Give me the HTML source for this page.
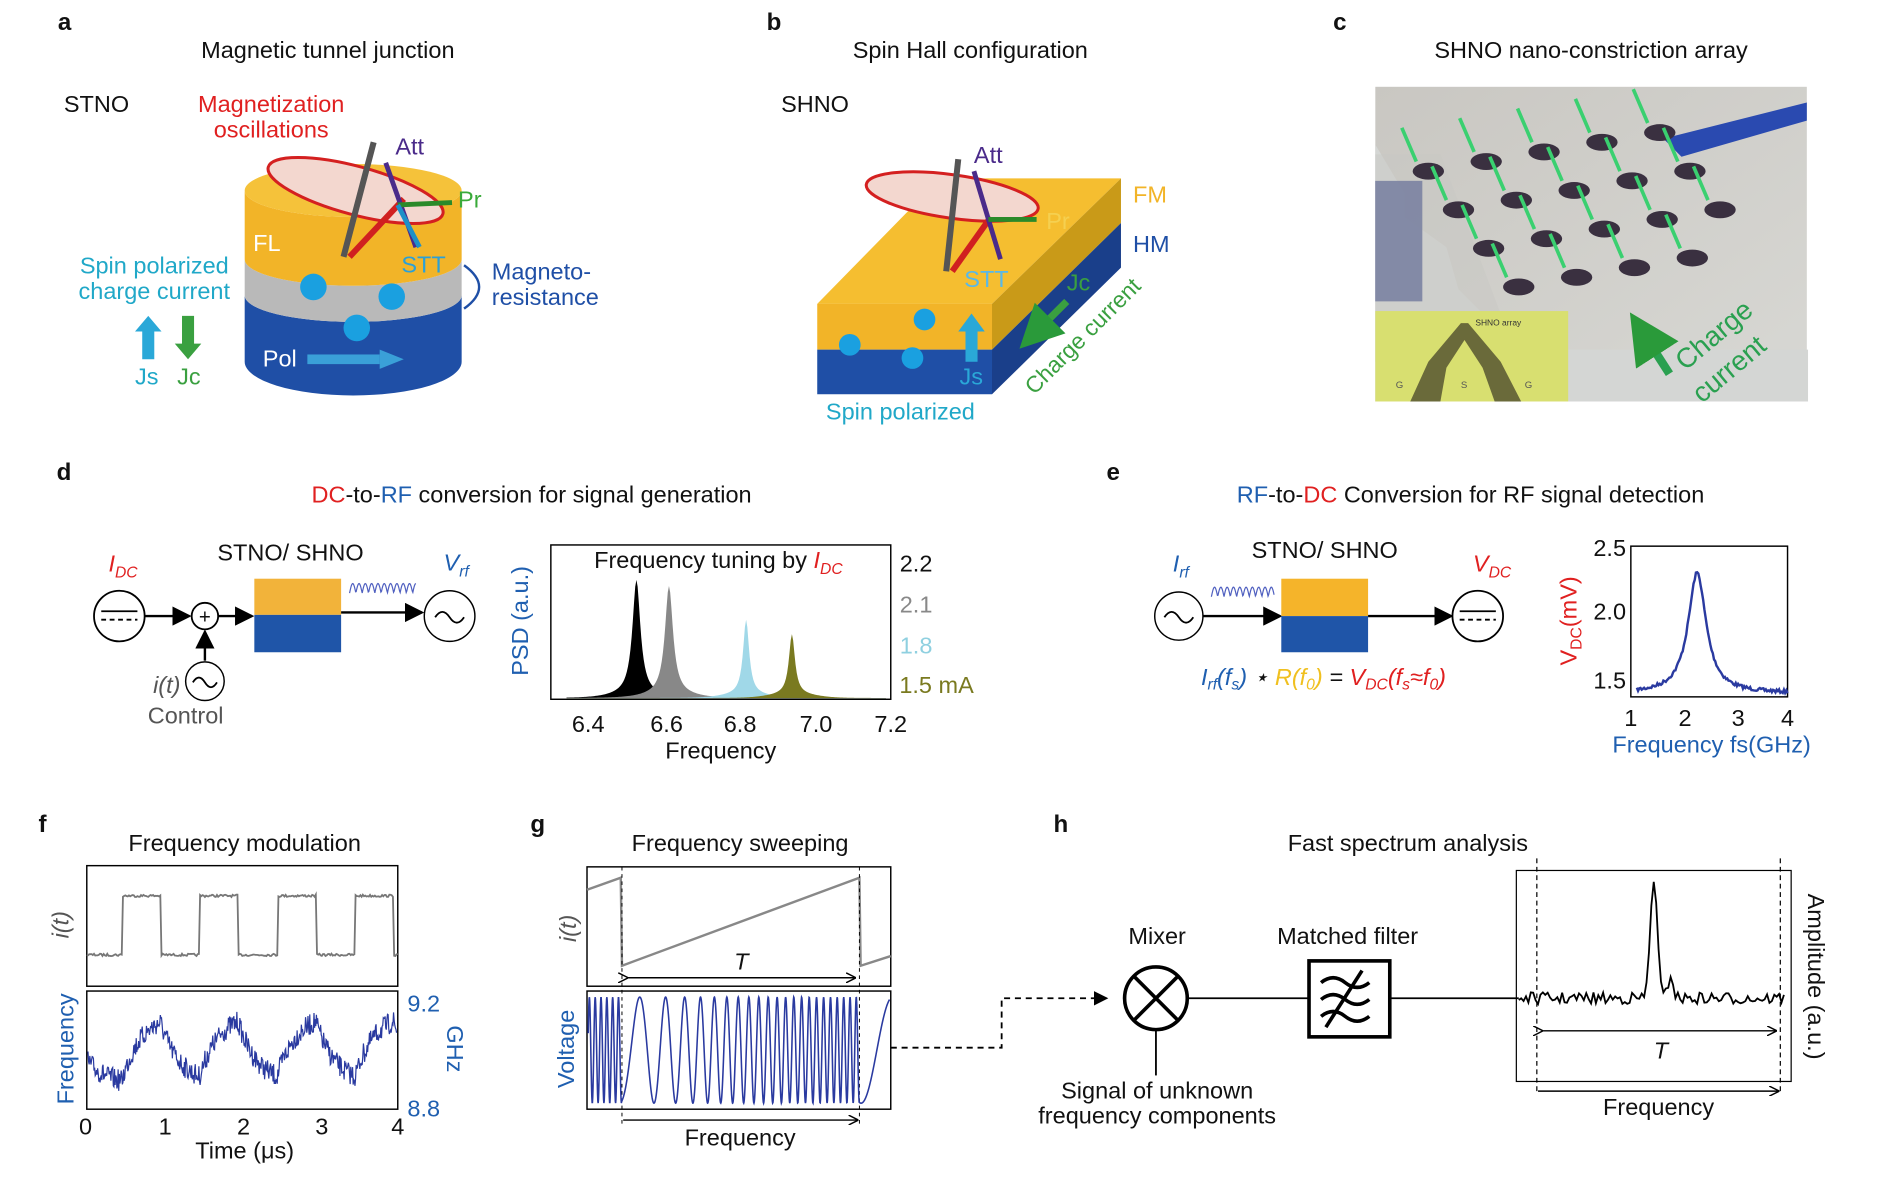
<!DOCTYPE html>
<html><head><meta charset="utf-8"><style>
html,body{margin:0;padding:0;background:#fff}
svg{display:block}
text{font-family:"Liberation Sans",sans-serif;font-size:19.5px;fill:#111}
.b{font-weight:bold;font-size:20px}
</style></head><body>
<svg id="s" width="1890" height="1196" viewBox="0 0 1568 992" preserveAspectRatio="none" xmlns="http://www.w3.org/2000/svg">
<defs>
<marker id="ar" markerWidth="8" markerHeight="8" refX="7" refY="4" orient="auto"><path d="M0,0L8,4L0,8z" fill="#000"/></marker>
<marker id="ars" markerWidth="7" markerHeight="7" refX="6" refY="3.5" orient="auto"><path d="M0,0L7,3.5L0,7" fill="none" stroke="#000"/></marker>
<marker id="arg" markerWidth="6" markerHeight="6" refX="5" refY="3" orient="auto"><path d="M0,0L6,3L0,6z" fill="#2a9a3a"/></marker>
<linearGradient id="ph" x1="0" y1="0" x2="1" y2="1"><stop offset="0" stop-color="#c9c7c2"/><stop offset="1" stop-color="#d8d8d4"/></linearGradient>
</defs>

<!-- panel a -->
<text x="48" y="25" class="b">a</text>
<text x="272" y="48" text-anchor="middle">Magnetic tunnel junction</text>
<text x="53" y="93">STNO</text>
<text x="225" y="93" text-anchor="middle" style="fill:#e02020">Magnetization</text>
<text x="225" y="114" text-anchor="middle" style="fill:#e02020">oscillations</text>
<path d="M203,300 L203,245 A90,22 0 0 0 383,245 L383,300 A90,28 0 0 1 203,300z" fill="#1f4fa6"/>
<path d="M203,245 L203,215 A90,22 0 0 0 383,215 L383,245 A90,22 0 0 1 203,245z" fill="#b9b9b9"/>
<path d="M203,215 L203,158 A90,22 0 0 0 383,158 L383,215 A90,22 0 0 1 203,215z" fill="#f2b428"/>
<ellipse cx="293" cy="158" rx="90" ry="22" fill="#f5c23a"/>
<ellipse cx="295" cy="158" rx="75" ry="20" transform="rotate(15 295 158)" fill="#f3d7cf" stroke="#d42020" stroke-width="2.5"/>
<line x1="285" y1="213" x2="310" y2="118" stroke="#555" stroke-width="5"/>
<line x1="290" y1="213" x2="335" y2="165" stroke="#d02020" stroke-width="5"/>
<line x1="320" y1="135" x2="345" y2="205" stroke="#4a2a8a" stroke-width="4"/>
<line x1="330" y1="170" x2="375" y2="168" stroke="#2a8a2a" stroke-width="4"/>
<line x1="330" y1="170" x2="348" y2="205" stroke="#1e90c8" stroke-width="4"/>
<circle cx="260" cy="238" r="11" fill="#1aa0e0"/><circle cx="325" cy="246" r="11" fill="#1aa0e0"/><circle cx="296" cy="272" r="11" fill="#1aa0e0"/>
<text x="210" y="208" style="fill:#fff">FL</text>
<text x="218" y="304" style="fill:#fff">Pol</text>
<rect x="255" y="294" width="60" height="8" fill="#3aa0d8"/><path d="M315,290L335,298L315,306z" fill="#3aa0d8"/>
<text x="333" y="226" style="fill:#2aa0d8">STT</text>
<text x="380" y="172" style="fill:#3aaa3a">Pr</text>
<text x="328" y="128" style="fill:#4a2a8a">Att</text>
<text x="128" y="227" text-anchor="middle" style="fill:#20a8c8">Spin polarized</text>
<text x="128" y="248" text-anchor="middle" style="fill:#20a8c8">charge current</text>
<path d="M118,298V275H112L123,262L134,275H128V298z" fill="#2aa8d8"/>
<path d="M151,262V285H145L156,298L167,285H161V262z" fill="#3aa040"/>
<text x="112" y="319" style="fill:#20a8c8">Js</text><text x="147" y="319" style="fill:#3aa040">Jc</text>
<path d="M385,220 Q410,238 385,256" fill="none" stroke="#1f4fa6" stroke-width="2"/>
<text x="408" y="232" style="fill:#1f4fa6">Magneto-</text>
<text x="408" y="253" style="fill:#1f4fa6">resistance</text>

<!-- panel b -->
<text x="636" y="25" class="b">b</text>
<text x="805" y="48" text-anchor="middle">Spin Hall configuration</text>
<text x="648" y="93">SHNO</text>
<polygon points="678,252 823,252 930,148 780,148" fill="#f5be30"/>
<polygon points="823,252 930,148 930,185 823,290" fill="#c99a18"/>
<polygon points="823,290 930,185 930,222 823,327" fill="#1a3f8a"/>
<rect x="678" y="252" width="145" height="38" fill="#f2b428"/>
<rect x="678" y="290" width="145" height="37" fill="#1f4fa6"/>
<ellipse cx="790" cy="163" rx="72" ry="18" transform="rotate(8 790 163)" fill="#f3d7cf" stroke="#d42020" stroke-width="2.5"/>
<line x1="785" y1="225" x2="795" y2="132" stroke="#555" stroke-width="5"/>
<line x1="790" y1="225" x2="822" y2="180" stroke="#d02020" stroke-width="5"/>
<line x1="808" y1="142" x2="830" y2="215" stroke="#4a2a8a" stroke-width="4"/>
<line x1="820" y1="182" x2="860" y2="182" stroke="#2a8a2a" stroke-width="4"/>
<text x="808" y="135" style="fill:#4a2a8a">Att</text>
<text x="868" y="190" style="fill:#f5d050">Pr</text>
<text x="800" y="238" style="fill:#5ab8e8">STT</text>
<text x="885" y="241" style="fill:#3aa040">Jc</text>
<text x="940" y="168" style="fill:#f2b428">FM</text>
<text x="940" y="209" style="fill:#1f4fa6">HM</text>
<circle cx="767" cy="265" r="9" fill="#1aa0e0"/><circle cx="705" cy="286" r="9" fill="#1aa0e0"/><circle cx="757" cy="297" r="9" fill="#1aa0e0"/>
<path d="M801,300V275H795L806,260L817,275H811V300z" fill="#2aa8d8"/>
<text x="796" y="319" style="fill:#2aa8d8">Js</text>
<path d="M885,250 L850,285" stroke="#3aa040" stroke-width="6" marker-end="url(#arg)"/>
<text transform="translate(858,328) rotate(-45)" style="fill:#3aa040;font-size:19px">Charge current</text>
<text x="747" y="348" text-anchor="middle" style="fill:#20a8c8">Spin polarized</text>

<!-- panel c -->
<text x="1106" y="25" class="b">c</text>
<text x="1320" y="48" text-anchor="middle">SHNO nano-constriction array</text>
<rect x="1141" y="72" width="358" height="261" fill="url(#ph)"/>
<polygon points="1141,120 1165,160 1165,180 1200,205 1210,240 1260,290 1500,290 1500,333 1141,333" fill="#d4d6d4"/>
<polygon points="1141,150 1180,150 1180,250 1141,250" fill="#25357a" opacity=".85"/>
<polygon points="1380,115 1499,85 1499,100 1395,130" fill="#2a4ab0"/>
<polygon points="1141,128 1195,128 1260,300 1141,300" fill="#c8c8c4" opacity=".5"/>
<g fill="#3a3040" id="holes"></g>
<g stroke="#3ad070" stroke-width="3" id="garr"></g>
<rect x="1141" y="258" width="160" height="75" fill="#d8df70"/>
<polygon points="1170,333 1185,300 1212,268 1218,268 1245,300 1262,333 1240,333 1230,305 1215,282 1200,305 1195,333" fill="#6a6a3a"/>
<text x="1158" y="322" style="font-size:8px;fill:#555">G</text><text x="1212" y="322" style="font-size:8px;fill:#555">S</text><text x="1265" y="322" style="font-size:8px;fill:#555">G</text>
<text x="1224" y="270" style="font-size:7px;fill:#333">SHNO array</text>
<path d="M1385,310 L1356,265" stroke="#2aa050" stroke-width="7" marker-end="url(#arg)"/>
<text transform="translate(1398,308) rotate(-40)" style="fill:#2aa050;font-size:23px">Charge</text>
<text transform="translate(1412,335) rotate(-40)" style="fill:#2aa050;font-size:23px">current</text>

<!-- panel d -->
<text x="47" y="398" class="b">d</text>
<text x="441" y="417" text-anchor="middle"><tspan style="fill:#e02020">DC</tspan>-to-<tspan style="fill:#1f5fb0">RF</tspan> conversion for signal generation</text>
<text x="90" y="474" style="fill:#e02020;font-style:italic">I<tspan dy="5" font-size="13">DC</tspan></text>
<circle cx="99" cy="511" r="21" fill="#fff" stroke="#000" stroke-width="1.5"/>
<line x1="84" y1="507" x2="114" y2="507" stroke="#000" stroke-width="1.5"/><line x1="84" y1="514" x2="114" y2="514" stroke="#000" stroke-width="1.5" stroke-dasharray="4 3"/>
<line x1="120" y1="511" x2="157" y2="511" stroke="#000" stroke-width="2" marker-end="url(#ar)"/>
<circle cx="170" cy="511" r="11" fill="#fff" stroke="#000" stroke-width="1.5"/><text x="170" y="517" text-anchor="middle" style="font-size:17px">+</text>
<line x1="181" y1="511" x2="209" y2="511" stroke="#000" stroke-width="2" marker-end="url(#ar)"/>
<line x1="170" y1="548" x2="170" y2="524" stroke="#000" stroke-width="2" marker-end="url(#ar)"/>
<circle cx="170" cy="565" r="16" fill="#fff" stroke="#000" stroke-width="1.2"/>
<path d="M160,566 q5,-8 10,0 t10,0" fill="none" stroke="#000" stroke-width="1.5"/>
<text x="127" y="575" style="fill:#555;font-style:italic">i(t)</text>
<text x="154" y="600" text-anchor="middle" style="fill:#555">Control</text>
<rect x="211" y="480" width="72" height="30" fill="#f2b33a"/><rect x="211" y="510" width="72" height="31" fill="#1f55a8"/>
<text x="241" y="465" text-anchor="middle">STNO/ SHNO</text>
<path id="wd" fill="none" stroke="#5060c0" stroke-width="1"/>
<line x1="283" y1="508" x2="350" y2="508" stroke="#000" stroke-width="2" marker-end="url(#ar)"/>
<circle cx="373" cy="511" r="21" fill="#fff" stroke="#000" stroke-width="1.2"/>
<path d="M361,512 q6,-9 12,0 t12,0" fill="none" stroke="#000" stroke-width="1.5"/>
<text x="368" y="473" style="fill:#1f5fb0;font-style:italic">V<tspan dy="5" font-size="13">rf</tspan></text>
<rect x="457" y="452" width="282" height="128" fill="none" stroke="#000" stroke-width="1.2"/>
<path id="pk" fill="#000"/>
<text x="596" y="471" text-anchor="middle">Frequency tuning by <tspan style="fill:#e02020;font-style:italic">I<tspan dy="5" font-size="13">DC</tspan></tspan></text>
<text x="760" y="474" text-anchor="middle">2.2</text>
<text x="760" y="508" text-anchor="middle" style="fill:#888">2.1</text>
<text x="760" y="542" text-anchor="middle" style="fill:#8fd0e0">1.8</text>
<text x="777" y="575" text-anchor="middle" style="fill:#7a7a20">1.5 mA</text>
<g text-anchor="middle"><text x="488" y="607">6.4</text><text x="553" y="607">6.6</text><text x="614" y="607">6.8</text><text x="677" y="607">7.0</text><text x="739" y="607">7.2</text></g>
<text x="598" y="629" text-anchor="middle">Frequency</text>
<text transform="translate(438,515) rotate(-90)" text-anchor="middle" style="fill:#1f5fb0">PSD (a.u.)</text>

<!-- panel e -->
<text x="918" y="398" class="b">e</text>
<text x="1220" y="417" text-anchor="middle"><tspan style="fill:#1f5fb0">RF</tspan>-to-<tspan style="fill:#e02020">DC</tspan> Conversion for RF signal detection</text>
<text x="973" y="474" style="fill:#1f5fb0;font-style:italic">I<tspan dy="5" font-size="13">rf</tspan></text>
<circle cx="978" cy="511" r="20" fill="#fff" stroke="#000" stroke-width="1.2"/>
<path d="M966,512 q6,-9 12,0 t12,0" fill="none" stroke="#000" stroke-width="1.5"/>
<path id="we" fill="none" stroke="#5060c0" stroke-width="1"/>
<line x1="998" y1="511" x2="1062" y2="511" stroke="#000" stroke-width="2" marker-end="url(#ar)"/>
<rect x="1063" y="480" width="72" height="31" fill="#f5b42a"/><rect x="1063" y="511" width="72" height="30" fill="#1f55a8"/>
<text x="1099" y="463" text-anchor="middle">STNO/ SHNO</text>
<line x1="1135" y1="511" x2="1204" y2="511" stroke="#000" stroke-width="2" marker-end="url(#ar)"/>
<circle cx="1226" cy="511" r="21" fill="#fff" stroke="#000" stroke-width="1.5"/>
<line x1="1211" y1="507" x2="1241" y2="507" stroke="#000" stroke-width="1.5"/><line x1="1211" y1="514" x2="1241" y2="514" stroke="#000" stroke-width="1.5" stroke-dasharray="4 3"/>
<text x="1222" y="474" style="fill:#e02020;font-style:italic">V<tspan dy="5" font-size="13">DC</tspan></text>
<text x="1098" y="568" text-anchor="middle" style="font-style:italic"><tspan style="fill:#1f5fb0">I<tspan font-size="13" dy="4">rf</tspan><tspan dy="-4">(f</tspan><tspan font-size="13" dy="4">s</tspan><tspan dy="-4">)</tspan></tspan> ⋆ <tspan style="fill:#f0c020">R(f<tspan font-size="13" dy="4">0</tspan><tspan dy="-4">)</tspan></tspan> = <tspan style="fill:#e02020">V<tspan font-size="13" dy="4">DC</tspan><tspan dy="-4">(f</tspan><tspan font-size="13" dy="4">s</tspan><tspan dy="-4">≈f</tspan><tspan font-size="13" dy="4">0</tspan><tspan dy="-4">)</tspan></tspan></text>
<rect x="1353" y="453" width="130" height="125" fill="none" stroke="#000" stroke-width="1.2"/>
<path id="ep" fill="none" stroke="#2a3aa0" stroke-width="2"/>
<g text-anchor="end"><text x="1349" y="461">2.5</text><text x="1349" y="514">2.0</text><text x="1349" y="571">1.5</text></g>
<g text-anchor="middle"><text x="1353" y="602">1</text><text x="1398" y="602">2</text><text x="1442" y="602">3</text><text x="1483" y="602">4</text></g>
<text x="1420" y="624" text-anchor="middle" style="fill:#1f5fb0">Frequency fs(GHz)</text>
<text transform="translate(1308,515) rotate(-90)" text-anchor="middle" style="fill:#e02020">V<tspan font-size="13" dy="4">DC</tspan><tspan dy="-4">(mV)</tspan></text>

<!-- panel f -->
<text x="32" y="690" class="b">f</text>
<text x="203" y="706" text-anchor="middle">Frequency modulation</text>
<rect x="72" y="718" width="258" height="100" fill="none" stroke="#000" stroke-width="1.2"/>
<rect x="72" y="822" width="258" height="98" fill="none" stroke="#000" stroke-width="1.2"/>
<path id="sq" fill="none" stroke="#777" stroke-width="1.5"/>
<path id="fn" fill="none" stroke="#2a3aa0" stroke-width="1"/>
<text transform="translate(57,767) rotate(-90)" text-anchor="middle" style="fill:#555;font-style:italic">i(t)</text>
<text transform="translate(61,870) rotate(-90)" text-anchor="middle" style="fill:#1f5fb0">Frequency</text>
<g text-anchor="middle"><text x="71" y="941">0</text><text x="137" y="941">1</text><text x="202" y="941">2</text><text x="267" y="941">3</text><text x="330" y="941">4</text></g>
<text x="203" y="961" text-anchor="middle">Time (μs)</text>
<text x="338" y="839" style="fill:#1f5fb0">9.2</text><text x="338" y="926" style="fill:#1f5fb0">8.8</text>
<text transform="translate(371,870) rotate(90)" text-anchor="middle" style="fill:#1f5fb0">GHz</text>

<!-- panel g -->
<text x="440" y="690" class="b">g</text>
<text x="614" y="706" text-anchor="middle">Frequency sweeping</text>
<rect x="487" y="719" width="252" height="99" fill="none" stroke="#000" stroke-width="1.2"/>
<rect x="487" y="822" width="252" height="98" fill="none" stroke="#000" stroke-width="1.2"/>
<path d="M487,738 L515,728 L516,801 L713,728 L714,801 L739,793" fill="none" stroke="#888" stroke-width="2"/>
<line x1="516" y1="719" x2="516" y2="935" stroke="#000" stroke-dasharray="3 3" stroke-width=".8"/>
<line x1="713" y1="719" x2="713" y2="935" stroke="#000" stroke-dasharray="3 3" stroke-width=".8"/>
<line x1="520" y1="811" x2="709" y2="811" stroke="#000" stroke-width="1.2" marker-end="url(#ars)" marker-start="url(#ars)"/>
<text x="615" y="804" text-anchor="middle" style="font-style:italic">T</text>
<path id="ch" fill="none" stroke="#2a3aa0" stroke-width="1.3"/>
<line x1="517" y1="929" x2="711" y2="929" stroke="#000" stroke-width="1.2" marker-end="url(#ars)"/>
<text x="614" y="950" text-anchor="middle">Frequency</text>
<text transform="translate(476,870) rotate(-90)" text-anchor="middle" style="fill:#1f5fb0">Voltage</text>
<text transform="translate(478,770) rotate(-90)" text-anchor="middle" style="fill:#555;font-style:italic">i(t)</text>

<!-- panel h -->
<text x="874" y="690" class="b">h</text>
<text x="1168" y="706" text-anchor="middle">Fast spectrum analysis</text>
<path d="M739,869 H831 V828 H918" fill="none" stroke="#000" stroke-width="1.5" stroke-dasharray="5 4" marker-end="url(#ar)"/>
<text x="960" y="783" text-anchor="middle">Mixer</text>
<circle cx="959" cy="828" r="26" fill="#fff" stroke="#000" stroke-width="3"/>
<line x1="941" y1="810" x2="977" y2="846" stroke="#000" stroke-width="3"/><line x1="977" y1="810" x2="941" y2="846" stroke="#000" stroke-width="3"/>
<line x1="985" y1="828" x2="1086" y2="828" stroke="#000" stroke-width="1.5"/>
<line x1="959" y1="854" x2="959" y2="892" stroke="#000" stroke-width="1.5"/>
<text x="960" y="911" text-anchor="middle">Signal of unknown</text>
<text x="960" y="932" text-anchor="middle">frequency components</text>
<text x="1118" y="783" text-anchor="middle">Matched filter</text>
<rect x="1086" y="797" width="67" height="63" fill="#fff" stroke="#000" stroke-width="3"/>
<g fill="none" stroke="#000" stroke-width="3"><path d="M1096,815 q10,-8 20,0 t20,0"/><path d="M1096,829 q10,-8 20,0 t20,0"/><path d="M1096,843 q10,-8 20,0 t20,0"/><line x1="1100" y1="852" x2="1130" y2="805"/></g>
<line x1="1153" y1="828" x2="1260" y2="828" stroke="#000" stroke-width="1.5"/>
<rect x="1258" y="722" width="228" height="175" fill="none" stroke="#000" stroke-width="1"/>
<line x1="1275" y1="712" x2="1275" y2="905" stroke="#000" stroke-dasharray="4 3" stroke-width="1"/>
<line x1="1477" y1="712" x2="1477" y2="905" stroke="#000" stroke-dasharray="4 3" stroke-width="1"/>
<path id="hs" fill="none" stroke="#000" stroke-width="1.5"/>
<line x1="1279" y1="855" x2="1473" y2="855" stroke="#000" stroke-width="1.2" marker-end="url(#ars)" marker-start="url(#ars)"/>
<text x="1378" y="878" text-anchor="middle" style="font-style:italic">T</text>
<line x1="1276" y1="905" x2="1475" y2="905" stroke="#000" stroke-width="1.2" marker-end="url(#ars)"/>
<text x="1376" y="925" text-anchor="middle">Frequency</text>
<text transform="translate(1500,810) rotate(90)" text-anchor="middle">Amplitude (a.u.)</text>
</svg>
<script>
var r=(function(s){return function(){s=(s*16807)%2147483647;return s/2147483647-0.5;}})(7);
function $(i){return document.getElementById(i);}
var d,i,x;
var h='',g='';
for(var row=0;row<4;row++)for(var c=0;c<5;c++){var hx=1185+c*48+row*25,hy=130+row*32-c*8;if(hx>1450)continue;
h+='<ellipse cx="'+hx+'" cy="'+(hy+12)+'" rx="13" ry="7"/>';g+='<line x1="'+(hx-10)+'" y1="'+(hy+4)+'" x2="'+(hx-22)+'" y2="'+(hy-24)+'"/>';}
$('holes').innerHTML=h;$('garr').innerHTML=g;
d='';for(x=0;x<=55;x+=0.5)d+=(x?'L':'M')+(290+x)+','+(492-8*Math.abs(Math.sin(x*0.6)))+' ';$('wd').setAttribute('d',d);
d='';for(x=0;x<=52;x+=0.5)d+=(x?'L':'M')+(1005+x)+','+(495-8*Math.abs(Math.sin(x*0.6)))+' ';$('we').setAttribute('d',d);
var pk=[[528,95,'#000',4],[555,90,'#888',4],[619,62,'#a0d8e8',3],[657,50,'#7a7a20',3]];
var svg=$('s');
pk.forEach(function(p){var dd='M470,579 ';for(x=470;x<=735;x+=1){var y=579-p[1]/(1+Math.pow((x-p[0])/p[3],2))-3*Math.exp(-Math.pow((x-p[0])/25,2));dd+='L'+x+','+y+' ';}dd+='L735,579z';
var e=document.createElementNS('http://www.w3.org/2000/svg','path');e.setAttribute('d',dd);e.setAttribute('fill',p[2]);svg.insertBefore(e,$('pk'));});
d='';for(x=1358;x<=1483;x++){var y=575-100/(1+Math.pow((x-1408)/9,2))+r()*3;d+=(x>1358?'L':'M')+x+','+y+' ';}$('ep').setAttribute('d',d);
d='';for(x=72;x<=330;x++){var t=(x-72)/64.5;var hi=(t%1)>0.45&&(t%1)<0.95;d+=(x>72?'L':'M')+x+','+((hi?743:792)+r()*2)+' ';}$('sq').setAttribute('d',d);
d='';var v=880;for(x=73;x<=329;x+=0.5){var t=(x-72)/64.5;var tgt=((t%1)>0.45&&(t%1)<0.95)?840:900;v+=(tgt-v)*0.03;var yy=Math.max(825,Math.min(917,v+r()*18));d+=(x>73?'L':'M')+x+','+yy+' ';}$('fn').setAttribute('d',d);
d='';var ph=0;for(x=488;x<=738;x+=0.25){var f;if(x<516)f=1.3;else if(x<713)f=0.15+(x-516)/197*1.1;else f=0.12;ph+=f*0.25;d+=(x>488?'L':'M')+x+','+(871-44*Math.sin(ph))+' ';}$('ch').setAttribute('d',d);
d='';for(x=1260;x<=1480;x+=2){var y=828+r()*10-100*Math.exp(-Math.pow((x-1372)/4,2))-20*Math.exp(-Math.pow((x-1386)/3,2));d+=(x>1260?'L':'M')+x+','+y+' ';}$('hs').setAttribute('d',d);
</script>
</body></html>
